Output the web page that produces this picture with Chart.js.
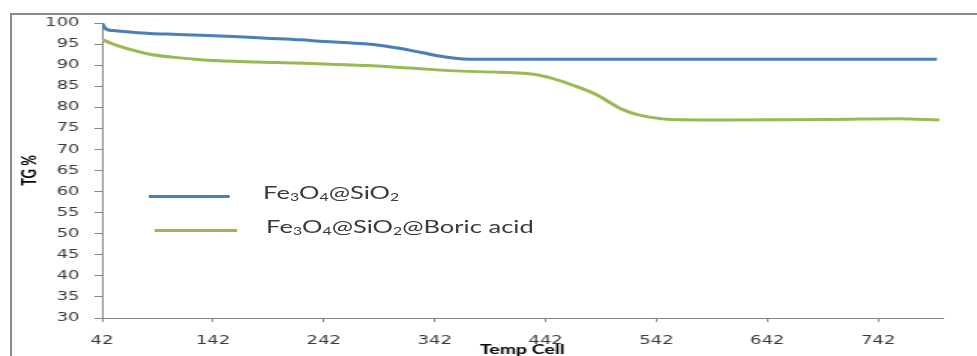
<!DOCTYPE html>
<html>
<head>
<meta charset="utf-8">
<script src="https://cdn.jsdelivr.net/npm/chart.js@4.4.0/dist/chart.umd.min.js"></script>
<style>
  body { margin: 0; background: #fff; }
  #wrap { position: relative; width: 977px; height: 356px; overflow: hidden; background: #fff; }
  #frame { position: absolute; left: 10px; top: 13px; width: 990px; height: 360px;
           border-left: 2px solid #8c8c8c; border-top: 2px solid #8c8c8c; }
  /* the original picture is stretched sideways, so the whole chart is drawn narrower and scaled */
  #stage { position: absolute; left: 0; top: 0; width: 651px; height: 362px;
           transform: scaleX(1.5008); transform-origin: 0 0; }
  .key { position: absolute; height: 3px; }
  .lbl { position: absolute; font-family: Lato, sans-serif; font-size: 17px; line-height: 20px;
         color: #3a3a3a; white-space: nowrap; }
  .lbl sub { font-size: 62%; line-height: 0; vertical-align: -0.2em; }
</style>
</head>
<body>
<div id="wrap">
  <div id="frame"></div>
  <div id="stage">
    <canvas id="tgChart" width="651" height="362"></canvas>
    <div class="key" style="left:98.7px;top:194.5px;width:54.6px;background:#4a7ebb"></div>
    <div class="lbl" style="left:175.3px;top:182.7px">Fe<sub>3</sub>O<sub>4</sub>@SiO<sub>2</sub></div>
    <div class="key" style="left:103.3px;top:228.5px;width:54.7px;background:#98b954"></div>
    <div class="lbl" style="left:177.3px;top:217.4px">Fe<sub>3</sub>O<sub>4</sub>@SiO<sub>2</sub>@Boric acid</div>
  </div>
</div>
<script>
// TG curves
const blueTemp = [42, 44, 47, 52, 65, 85, 110, 131, 160, 190, 221, 242, 270, 290, 310, 330, 350, 365, 380, 450, 550, 650, 795];
const blueTG   = [99.8, 99.0, 98.4, 98.2, 97.9, 97.5, 97.3, 97.1, 96.8, 96.4, 96.0, 95.6, 95.2, 94.8, 94.0, 93.0, 92.0, 91.5, 91.4, 91.4, 91.4, 91.4, 91.4];

const greenTemp = [42, 50, 61, 75, 85, 105, 131, 160, 200, 242, 280, 320, 356, 400, 425, 440, 455, 468, 480, 492, 502, 512, 524, 537, 555, 600, 700, 760, 797];
const greenTG   = [96.1, 95.2, 94.2, 93.2, 92.6, 91.9, 91.3, 90.9, 90.6, 90.3, 89.9, 89.3, 88.7, 88.3, 88.0, 87.4, 86.3, 85.1, 83.9, 82.4, 80.8, 79.4, 78.3, 77.6, 77.1, 77.0, 77.1, 77.3, 77.0];

const xTicks = [42, 142, 242, 342, 442, 542, 642, 742];
const yTicks = [30, 35, 40, 45, 50, 55, 60, 65, 70, 75, 80, 85, 90, 95, 100];

const axisColor = "#868686";
const tickColor = "#3a3a3a";

function toPoints(xs, ys) {
  return xs.map((x, i) => ({ x: x, y: ys[i] }));
}

const ctx = document.getElementById("tgChart").getContext("2d");
new Chart(ctx, {
  type: "line",
  data: {
    datasets: [
      {
        label: "Fe3O4@SiO2",
        data: toPoints(blueTemp, blueTG),
        borderColor: "#4a7ebb",
      },
      {
        label: "Fe3O4@SiO2@Boric acid",
        data: toPoints(greenTemp, greenTG),
        borderColor: "#98b954",
      },
    ],
  },
  options: {
    responsive: false,
    animation: false,
    devicePixelRatio: 1,
    layout: { padding: { left: 8, right: 23, top: 23, bottom: 4 } },
    elements: {
      point: { radius: 0 },
      line: { borderWidth: 3, cubicInterpolationMode: "monotone" },
    },
    plugins: {
      legend: { display: false },
      tooltip: { enabled: false },
    },
    scales: {
      x: {
        type: "linear",
        min: 42,
        max: 800,
        afterBuildTicks: (s) => { s.ticks = xTicks.map((v) => ({ value: v })); },
        afterFit: (s) => { s.height = 40; },
        grid: { drawOnChartArea: false, tickLength: 4, color: axisColor },
        border: { color: axisColor },
        ticks: {
          autoSkip: false,
          maxRotation: 0,
          padding: 12,
          color: tickColor,
          font: { family: "DejaVu Sans", size: 12 },
        },
        title: {
          display: true,
          text: "Temp Cell",
          color: "#000",
          padding: 0,
          font: { family: "Lato", size: 13, weight: "bold" },
        },
      },
      y: {
        min: 30,
        max: 100,
        afterBuildTicks: (s) => { s.ticks = yTicks.map((v) => ({ value: v })); },
        afterFit: (s) => { s.width = 60; },
        grid: { drawOnChartArea: false, tickLength: 5, color: axisColor },
        border: { color: axisColor },
        ticks: {
          padding: 10,
          color: tickColor,
          font: { family: "DejaVu Sans", size: 12 },
        },
        title: {
          display: true,
          text: "TG %",
          color: "#000",
          padding: { top: 4, bottom: 0 },
          font: { family: "Lato", size: 13, weight: "bold" },
        },
      },
    },
  },
});
</script>
</body>
</html>
